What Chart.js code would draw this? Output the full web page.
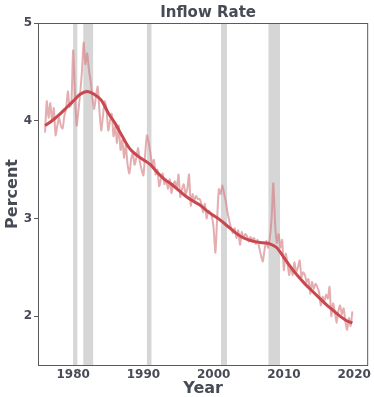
<!DOCTYPE html>
<html>
<head>
<meta charset="utf-8">
<script src="https://cdn.jsdelivr.net/npm/chart.js@4.4.1/dist/chart.umd.min.js"></script>
<style>
  html, body { margin: 0; padding: 0; background: #ffffff; }
  #wrap { width: 374px; height: 397px; position: relative; }
</style>
</head>
<body>
<div id="wrap"><canvas id="c" width="374" height="397"></canvas></div>
<script>
// ---- Data (quarterly inflow rate, percent) ----
const startYear = 1976;
const inflowRate = [
  3.88, 4.20, 4.03, 4.18,   // 1976
  4.00, 4.13, 3.85, 3.95,   // 1977
  4.03, 3.95, 3.92, 4.05,   // 1978
  4.12, 4.30, 4.14, 4.17,   // 1979
  4.72, 4.30, 3.95, 4.10,   // 1980
  4.28, 4.50, 4.80, 4.58,   // 1981
  4.69, 4.52, 4.40, 4.23,   // 1982
  4.12, 4.25, 4.35, 4.10,   // 1983
  3.90, 4.05, 4.20, 4.12,   // 1984
  3.90, 4.00, 4.07, 3.84,   // 1985
  3.94, 3.77, 3.95, 3.70,   // 1986
  3.80, 3.62, 3.75, 3.55,   // 1987
  3.46, 3.60, 3.67, 3.55,   // 1988
  3.62, 3.72, 3.58, 3.50,   // 1989
  3.44, 3.65, 3.85, 3.78,   // 1990
  3.67, 3.55, 3.60, 3.45,   // 1991
  3.50, 3.33, 3.40, 3.46,   // 1992
  3.35, 3.40, 3.30, 3.40,   // 1993
  3.26, 3.35, 3.38, 3.30,   // 1994
  3.45, 3.22, 3.30, 3.35,   // 1995
  3.25, 3.30, 3.45, 3.13,   // 1996
  3.25, 3.18, 3.23, 3.20,   // 1997
  3.20, 3.15, 3.06, 3.15,   // 1998
  3.00, 3.08, 3.06, 3.02,   // 1999
  2.90, 2.65, 3.00, 3.30,   // 2000
  3.25, 3.34, 3.25, 3.17,   // 2001
  3.05, 2.97, 2.90, 2.85,   // 2002
  2.90, 2.80, 2.88, 2.73,   // 2003
  2.86, 2.80, 2.84, 2.82,   // 2004
  2.76, 2.81, 2.78, 2.80,   // 2005
  2.74, 2.78, 2.70, 2.62,   // 2006
  2.56, 2.68, 2.77, 2.70,   // 2007
  2.80, 3.00, 3.36, 2.95,   // 2008
  2.75, 2.84, 2.70, 2.78,   // 2009
  2.47, 2.64, 2.55, 2.42,   // 2010
  2.51, 2.42, 2.55, 2.45,   // 2011
  2.50, 2.57, 2.40, 2.45,   // 2012
  2.42, 2.35, 2.38, 2.23,   // 2013
  2.35, 2.28, 2.33, 2.30,   // 2014
  2.25, 2.11, 2.20, 2.15,   // 2015
  2.22, 2.18, 2.30, 2.00,   // 2016
  2.13, 2.05, 1.93, 2.05,   // 2017
  2.11, 2.02, 2.08, 1.95,   // 2018
  1.86, 1.98, 1.90, 2.05    // 2019
];

// Smoothed trend (annual)
const trendYears = [1976,1977,1978,1979,1980,1981,1982,1983,1984,1985,1986,1987,1988,1989,1990,1991,1992,1993,1994,1995,1996,1997,1998,1999,2000,2001,2002,2003,2004,2005,2006,2007,2008,2009,2010,2011,2012,2013,2014,2015,2016,2017,2018,2019,2019.75];
const trendValues = [3.95,4.00,4.06,4.13,4.20,4.27,4.30,4.27,4.21,4.08,3.97,3.84,3.72,3.65,3.60,3.55,3.47,3.40,3.35,3.29,3.23,3.18,3.14,3.08,3.03,2.98,2.92,2.86,2.81,2.78,2.76,2.75,2.74,2.70,2.60,2.50,2.41,2.33,2.26,2.19,2.12,2.06,2.00,1.95,1.93];

// Recession periods (start year, end year)
const recessions = [[1980.0, 1980.6], [1981.45, 1982.85], [1990.5, 1991.15], [2001.05, 2001.9], [2007.8, 2009.45]];

const xTicks = [1980, 1990, 2000, 2010, 2020];
const yTicks = [2, 3, 4, 5];

// ---- build datasets ----
const rawPoints = inflowRate.map((v, i) => ({ x: startYear + i / 4, y: v }));
const trendPoints = trendYears.map((yr, i) => ({ x: yr, y: trendValues[i] }));

const textColor = '#474b55';
const fontFam = "'DejaVu Sans', 'Liberation Sans', sans-serif";

const recessionPlugin = {
  id: 'recessions',
  beforeDatasetsDraw(chart) {
    const { ctx, chartArea, scales } = chart;
    ctx.save();
    ctx.fillStyle = '#d6d6d6';
    recessions.forEach(([a, b]) => {
      const x0 = scales.x.getPixelForValue(a);
      const x1 = scales.x.getPixelForValue(b);
      ctx.fillRect(x0, chartArea.top, x1 - x0, chartArea.bottom - chartArea.top);
    });
    ctx.restore();
  }
};

const framePlugin = {
  id: 'frame',
  afterDraw(chart) {
    const { ctx, chartArea } = chart;
    ctx.save();
    ctx.strokeStyle = '#5a5a5a';
    ctx.lineWidth = 1;
    ctx.strokeRect(chartArea.left + 0.5, chartArea.top + 0.5, chartArea.right - chartArea.left - 1, chartArea.bottom - chartArea.top);
    // title
    ctx.fillStyle = textColor;
    ctx.font = "bold 15px " + fontFam;
    ctx.textAlign = 'center';
    ctx.textBaseline = 'middle';
    ctx.fillText('Inflow Rate', (chartArea.left + chartArea.right) / 2 + 5, 13);
    ctx.restore();
  }
};

new Chart(document.getElementById('c'), {
  type: 'line',
  data: {
    datasets: [
      {
        label: 'Trend',
        data: trendPoints,
        borderColor: '#c9484f',
        borderWidth: 3,
        pointRadius: 0,
        tension: 0.4,
        cubicInterpolationMode: 'monotone',
        fill: false,
        order: 0
      },
      {
        label: 'Inflow rate',
        data: rawPoints,
        borderColor: 'rgba(212,122,127,0.62)',
        borderWidth: 2,
        pointRadius: 0,
        tension: 0.2,
        fill: false,
        order: 1
      }
    ]
  },
  options: {
    responsive: false,
    animation: false,
    devicePixelRatio: 1,
    layout: { padding: { left: 0, right: 4, top: 23, bottom: 0 } },
    plugins: {
      legend: { display: false },
      title: { display: false },
      tooltip: { enabled: false }
    },
    scales: {
      x: {
        type: 'linear',
        min: 1975,
        max: 2022,
        afterFit(s) { s.height = 32; },
        afterBuildTicks(s) { s.ticks = xTicks.map(v => ({ value: v })); },
        grid: { display: false, drawTicks: false },
        border: { display: false },
        ticks: {
          color: textColor,
          font: { family: fontFam, size: 12, weight: 'bold' },
          padding: 3,
          maxRotation: 0,
          callback: v => String(v)
        },
        title: {
          display: true,
          text: 'Year',
          color: textColor,
          font: { family: fontFam, size: 16, weight: 'bold', lineHeight: 1 },
          padding: { top: 0, bottom: 0 }
        }
      },
      y: {
        min: 1.5,
        max: 5,
        afterFit(s) { s.width = 38; },
        afterBuildTicks(s) { s.ticks = yTicks.map(v => ({ value: v })); },
        grid: { display: true, drawOnChartArea: false, drawTicks: true, tickLength: 4, color: '#5a5a5a' },
        border: { display: false },
        ticks: {
          color: textColor,
          font: { family: fontFam, size: 12, weight: 'bold' },
          padding: 2,
          callback: v => String(v)
        },
        title: {
          display: true,
          text: 'Percent',
          color: textColor,
          font: { family: fontFam, size: 16, weight: 'bold', lineHeight: 1 },
          padding: { top: 5, bottom: 0 }
        }
      }
    }
  },
  plugins: [recessionPlugin, framePlugin]
});
</script>
</body>
</html>
